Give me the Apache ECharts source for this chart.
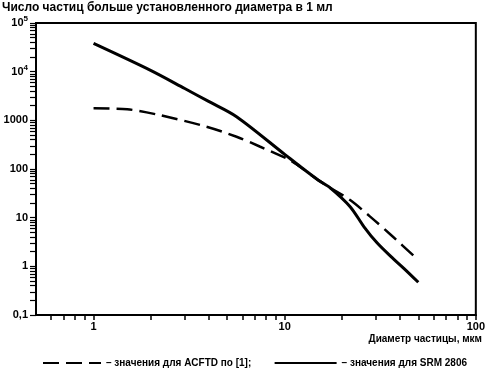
<!DOCTYPE html>
<html>
<head>
<meta charset="utf-8">
<script src="https://cdn.jsdelivr.net/npm/echarts@6/dist/echarts.min.js"></script>
<style>html,body{margin:0;padding:0;background:#fff}#c{width:488px;height:374px}</style>
</head>
<body>
<div id="c"></div>
<script>
// Data
const acftdX = [1, 1.5, 2.2, 3.9, 5.6, 7.4, 10.7, 15, 17.3, 22, 28, 36, 50];
const acftdY = [1770, 1690, 1290, 740, 460, 290, 150, 59, 41, 23, 10.5, 4.4, 1.35];
const srmX = [1, 2, 3, 4, 5.6, 10, 12.1, 15, 17.3, 22, 26, 30.5, 36, 42, 50];
const srmY = [38000, 10500, 4500, 2450, 1190, 200, 111, 59, 41, 16.8, 6.5, 3.0, 1.58, 0.91, 0.47];
const xLabelValues = [1, 10, 100];
const xTickValues = [0.6,0.7,0.8,0.9,1,2,3,4,5,6,7,8,9,10,20,30,40,50,60,70,80,90,100];
const yLabelValues = [0.1, 1, 10, 100, 1000, 10000, 100000];
const yLabelTexts = ['0,1', '1', '10', '100', '1000', '{b|10}{s|4}', '{b|10}{s|5}'];
const seriesNames = ['– значения для ACFTD по [1];', '– значения для SRM 2806'];
const titleText = 'Число частиц больше установленного диаметра в 1 мл';
const xAxisTitle = 'Диаметр частицы, мкм';

const yTickValues = [];
for (let e = -1; e <= 4; e++) {
  for (let m = 1; m <= 9; m++) yTickValues.push(+(m * Math.pow(10, e)).toPrecision(6));
}
yTickValues.push(100000);

const font = 'Liberation Sans, Arial, sans-serif';
const legendText = {fontFamily: font, fontWeight: 'bold', fontSize: 10, color: '#000'};
const hiddenSymbol = {color: 'transparent', borderColor: 'transparent', borderWidth: 0, opacity: 0};
const chart = echarts.init(document.getElementById('c'), null, {renderer: 'canvas'});
chart.setOption({
  animation: false,
  backgroundColor: '#fff',
  grid: {left: 36, right: 12, top: 23, bottom: 59, show: true, borderColor: '#000', borderWidth: 2, backgroundColor: 'transparent'},
  graphic: [
    {type: 'text', left: 2, top: 2, style: {text: titleText, font: 'bold 12px ' + font, fill: '#000'}},
    {type: 'text', right: 6, top: 334, style: {text: xAxisTitle, font: 'bold 10px ' + font, fill: '#000'}}
  ],
  legend: [
    {left: 37, bottom: 1, itemWidth: 58, itemHeight: 10, textStyle: legendText,
     itemStyle: hiddenSymbol, data: [seriesNames[0]]},
    {right: 16, bottom: 1, itemWidth: 62, itemHeight: 10, textStyle: legendText,
     itemStyle: hiddenSymbol, data: [seriesNames[1]]}
  ],
  xAxis: {
    type: 'log', logBase: 10, min: 0.5, max: 100,
    axisLine: {show: true, lineStyle: {color: '#000', width: 2}},
    axisTick: {show: true, length: 5, lineStyle: {color: '#000', width: 1.5}, customValues: xTickValues},
    axisLabel: {customValues: xLabelValues, color: '#000', fontFamily: font, fontWeight: 'bold', fontSize: 11, margin: 6,
      formatter: v => String(v)},
    splitLine: {show: false}, minorTick: {show: false}
  },
  yAxis: {
    type: 'log', logBase: 10, min: 0.1, max: 100000,
    axisLine: {show: true, lineStyle: {color: '#000', width: 2}},
    axisTick: {show: true, length: 6, lineStyle: {color: '#000', width: 1.2}, customValues: yTickValues},
    axisLabel: {customValues: yLabelValues, color: '#000', fontFamily: font, fontWeight: 'bold', fontSize: 11, margin: 8,
      formatter: v => { const i = yLabelValues.findIndex(x => Math.abs(x - v) / x < 1e-6); return i >= 0 ? yLabelTexts[i] : ''; },
      rich: {b: {fontFamily: font, fontWeight: 'bold', fontSize: 11, color: '#000'},
             s: {fontFamily: font, fontWeight: 'bold', fontSize: 8, color: '#000', verticalAlign: 'bottom', padding: [0, 0, 8, 0]}}},
    splitLine: {show: false}, minorTick: {show: false}
  },
  series: [
    {name: seriesNames[0], type: 'line', symbol: 'none', smooth: 0.3,
     lineStyle: {color: '#000', width: 2.5, type: [16, 7]},
     itemStyle: {color: '#000'},
     data: acftdX.map((x, i) => [x, acftdY[i]])},
    {name: seriesNames[1], type: 'line', symbol: 'none', smooth: 0.3,
     lineStyle: {color: '#000', width: 3, type: 'solid'},
     itemStyle: {color: '#000'},
     data: srmX.map((x, i) => [x, srmY[i]])}
  ]
});
</script>
</body>
</html>
